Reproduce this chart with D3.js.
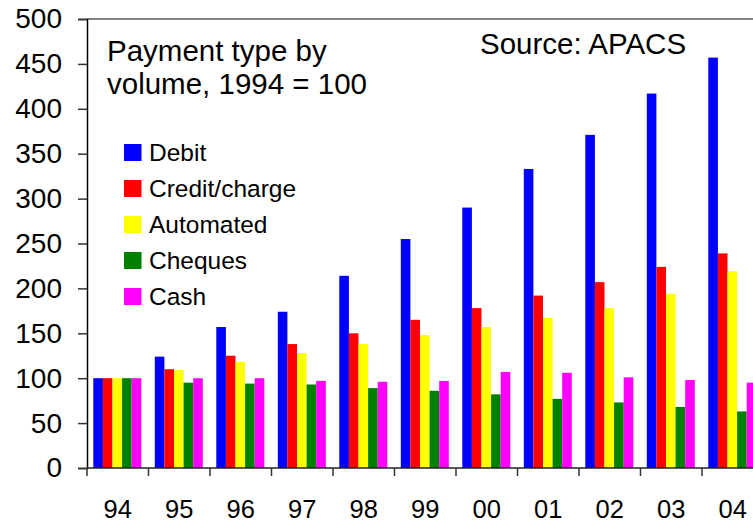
<!DOCTYPE html>
<html>
<head>
<meta charset="utf-8">
<script src="https://cdnjs.cloudflare.com/ajax/libs/d3/7.8.5/d3.min.js"></script>
<style>
  html, body { margin: 0; padding: 0; background: #fff; overflow: hidden; }
  text { font-family: "Liberation Sans", Arial, sans-serif; fill: #000; }
</style>
</head>
<body>
<div class="visualization"></div>
<script>
var years = ['94', '95', '96', '97', '98', '99', '00', '01', '02', '03', '04'];
var seriesNames = ['Debit', 'Credit/charge', 'Automated', 'Cheques', 'Cash'];
var seriesColors = ['#0000ff', '#ff0000', '#ffff00', '#008000', '#ff00ff'];

var debit   = [100, 124, 157, 174, 214, 255, 290, 333, 371, 417, 457];
var credit  = [100, 110, 125, 138, 150, 165, 178, 192, 207, 224, 239];
var auto    = [100, 109, 118, 128, 138, 148, 157, 167, 178, 194, 219];
var cheques = [100, 95, 94, 93, 89, 86, 82, 77, 73, 68, 63];
var cash    = [100, 100, 100, 97, 96, 97, 107, 106, 101, 98, 95];

var yTicks = [0, 50, 100, 150, 200, 250, 300, 350, 400, 450, 500];

(function(){

  var series = [debit, credit, auto, cheques, cash];

  var svg = d3.select('.visualization')
    .append('svg')
    .attr('width', 753)
    .attr('height', 523);

  var x0 = d3.scaleBand()
    .domain(years)
    .range([87, 763.5]);

  var x1 = d3.scaleBand()
    .domain(seriesNames)
    .range([6.3, 6.3 + 48]);

  var y = d3.scaleLinear()
    .domain([0, 500])
    .range([468, 19]);

  // bars
  var groups = svg.selectAll('g.year')
    .data(years)
    .enter().append('g')
    .attr('class', 'year')
    .attr('transform', function(d){ return 'translate(' + x0(d) + ',0)'; });

  groups.selectAll('rect')
    .data(function(d, i){
      return seriesNames.map(function(name, j){
        return { name: name, value: series[j][i], color: seriesColors[j] };
      });
    })
    .enter().append('rect')
    .attr('x', function(d){ return x1(d.name); })
    .attr('width', x1.bandwidth())
    .attr('y', function(d){ return y(d.value); })
    .attr('height', function(d){ return y(0) - y(d.value); })
    .attr('fill', function(d){ return d.color; });

  // frame top line
  svg.append('line')
    .attr('x1', 87).attr('x2', 753)
    .attr('y1', y(500)).attr('y2', y(500))
    .attr('stroke', '#5a5a5a')
    .attr('stroke-width', 1.5);

  // y axis
  var yAxis = svg.append('g')
    .attr('transform', 'translate(87,0)')
    .call(d3.axisLeft(y).tickValues(yTicks).tickSize(9).tickPadding(16));
  yAxis.select('.domain').attr('stroke', '#000').attr('stroke-width', 1.5);
  yAxis.selectAll('.tick line').attr('stroke', '#333').attr('stroke-width', 1.5);
  yAxis.selectAll('.tick text')
    .attr('font-size', 28)
    .attr('font-family', '"Liberation Sans", Arial, sans-serif')
    .attr('fill', '#000');

  // x axis
  var xAxis = svg.append('g')
    .attr('transform', 'translate(0,' + y(0) + ')');
  xAxis.append('line')
    .attr('x1', 87).attr('x2', 753)
    .attr('stroke', '#222')
    .attr('stroke-width', 1.5);
  xAxis.selectAll('line.tick')
    .data(years)
    .enter().append('line')
    .attr('class', 'tick')
    .attr('x1', function(d){ return x0(d); })
    .attr('x2', function(d){ return x0(d); })
    .attr('y1', 0).attr('y2', 8)
    .attr('stroke', '#333')
    .attr('stroke-width', 1.5);
  xAxis.selectAll('text')
    .data(years)
    .enter().append('text')
    .attr('x', function(d){ return x0(d) + x0.bandwidth() / 2; })
    .attr('y', 49.5)
    .attr('text-anchor', 'middle')
    .attr('font-size', 25.5)
    .text(function(d){ return d; });

  // titles
  svg.append('text')
    .attr('x', 107).attr('y', 61)
    .attr('font-size', 29.5)
    .text('Payment type by');
  svg.append('text')
    .attr('x', 107).attr('y', 94)
    .attr('font-size', 29.5)
    .text('volume, 1994 = 100');
  svg.append('text')
    .attr('x', 480).attr('y', 53.5)
    .attr('font-size', 29.5)
    .text('Source: APACS');

  // legend
  var legend = svg.selectAll('g.legend')
    .data(seriesNames)
    .enter().append('g')
    .attr('class', 'legend')
    .attr('transform', function(d, i){ return 'translate(124,' + (144 + i * 36) + ')'; });

  legend.append('rect')
    .attr('width', 17.5)
    .attr('height', 17)
    .attr('fill', function(d, i){ return seriesColors[i]; });

  legend.append('text')
    .attr('x', 25)
    .attr('y', 17)
    .attr('font-size', 24.5)
    .text(function(d){ return d; });

}());
</script>
</body>
</html>
